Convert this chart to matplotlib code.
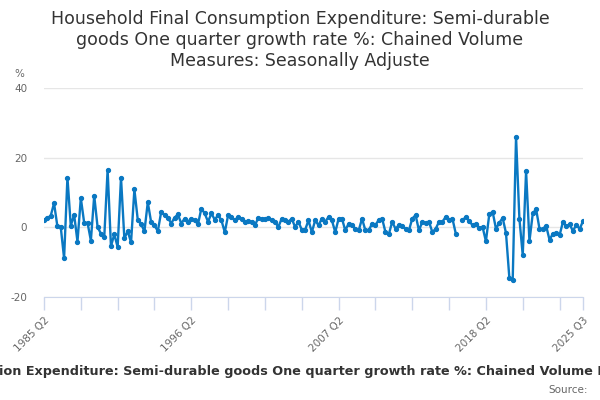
import numpy as np
import matplotlib
matplotlib.use("Agg")
import matplotlib.pyplot as plt

title = ("Household Final Consumption Expenditure: Semi-durable\n"
         "goods One quarter growth rate %: Chained Volume\n"
         "Measures: Seasonally Adjuste")
caption = ("Household Final Consumption Expenditure: Semi-durable goods One quarter "
           "growth rate %: Chained Volume Measures: Seasonally Adjusted")

# quarters 1985 Q2 .. 2025 Q3
quarters = [f"{1985 + (q + 1) // 4} Q{(q + 1) % 4 + 1}" for q in range(162)]

values_a = [2.1, 2.7, 3.3, 6.9, 0.3, 0.1, -8.9, 14.3, 0.5, 3.6,
            -4.1, 8.4, 1.3, 1.3, -3.8, 9.1, 0.1, -1.8, -2.8, 16.5,
            -5.4, -2.0, -5.7, 14.3, -3.2, -1.1, -4.3, 10.9, 2.2, 0.9,
            -1.1, 7.2, 1.5, 0.6, -1.1, 4.4, 3.5, 2.8, 1.1, 2.8, 3.7]
values_b = [1.1, 2.5, 1.6, 2.5, 2.0, 0.9, 5.4, 4.0, 1.6, 4.0,
            2.2, 3.5, 2.0, -1.4, 3.5, 3.0, 2.0, 3.0, 2.5, 1.6,
            1.8, 1.6, 0.6, 2.7, 2.5, 2.3, 2.7, 2.0, 1.6, 0.1,
            2.5, 2.0, 1.6, 2.5, 0.1, 1.6, -0.7, -0.7, 2.0, -1.4]
values_c = [2.0, 0.6, 2.5, 1.6, 3.0, 2.0, -1.4, 2.5, 2.5, -0.9,
            1.1, 0.6, -0.4, -0.9, 2.5, -0.9, -0.9, 1.1, 0.6, 2.2,
            2.5, -1.4, -2.0, 1.6, -0.4, 0.6, 0.3, -0.4, -0.9, 2.5,
            3.5, -0.9, 1.6, 1.3, 1.6, -1.4, -0.4, 1.6, 1.6, 3.0,
            2.0, 2.5, -1.8]
values_gap = [np.nan]
values_d = [2.0, 3.0, 1.8, 0.6, 0.9, -0.1, 0.1, -4.0, 3.7, 4.5,
            -0.4, 1.3, 2.7, -1.65, -14.5, -15.2, 26.0, 2.5, -8.0, 16.1,
            -4.0, 4.0, 5.2, -0.4, -0.4, 0.4, -3.6, -1.8, -1.55, -2.3,
            1.55, 0.3, 0.9, -1.1, 0.8, -0.5, 1.8]
values = np.array(values_a + values_b + values_c + values_gap + values_d, dtype=float)

label_quarters = ["1985 Q2", "1996 Q2", "2007 Q2", "2018 Q2", "2025 Q3"]
y_ticks = [-20, 0, 20, 40]

x = np.arange(len(values))

fig = plt.figure(figsize=(6, 4), dpi=100)
ax = fig.add_axes([44 / 600, 1 - 297 / 400, (583 - 44) / 600, (297 - 88) / 400])

ax.plot(x, values, color="#0a78c2", lw=1.7, marker="o", ms=2.8, zorder=3)

ax.set_xlim(0, len(values) - 1)
ax.set_ylim(-20, 40)
ax.set_yticks(y_ticks)
ax.set_yticklabels([str(v) for v in y_ticks])
ax.yaxis.grid(True, color="#e6e6e6", lw=1)
ax.set_axisbelow(True)

minor = list(range(0, len(values), 11)) + [len(values) - 1]
ax.set_xticks(minor, minor=True)
major = [quarters.index(q) for q in label_quarters]
ax.set_xticks(major)
ax.set_xticklabels(label_quarters, rotation=45, ha="right", rotation_mode="anchor")
ax.tick_params(axis="x", which="both", length=9, color="#ccd6eb", width=1,
               labelsize=7.5, labelcolor="#666666", pad=4)
ax.tick_params(axis="y", length=0, labelsize=7.5, labelcolor="#666666", pad=12)

for s in ["top", "right", "left"]:
    ax.spines[s].set_visible(False)
ax.spines["bottom"].set_color("#ccd6eb")

fig.text(14 / 600, 1 - 74 / 400, "%", fontsize=7.5, color="#666666", ha="left", va="center")
fig.text(0.5, 1 - 10 / 400, title, fontsize=12.5, color="#333333", ha="center", va="top",
         linespacing=1.22)
fig.text(314 / 600, 1 - 372 / 400, caption, fontsize=9.15, fontweight="bold", color="#333333",
         ha="center", va="center")
fig.text(588 / 600, 1 - 390 / 400, "Source:", fontsize=7.5, color="#666666", ha="right",
         va="center")

fig.savefig("out.png", dpi=100)
